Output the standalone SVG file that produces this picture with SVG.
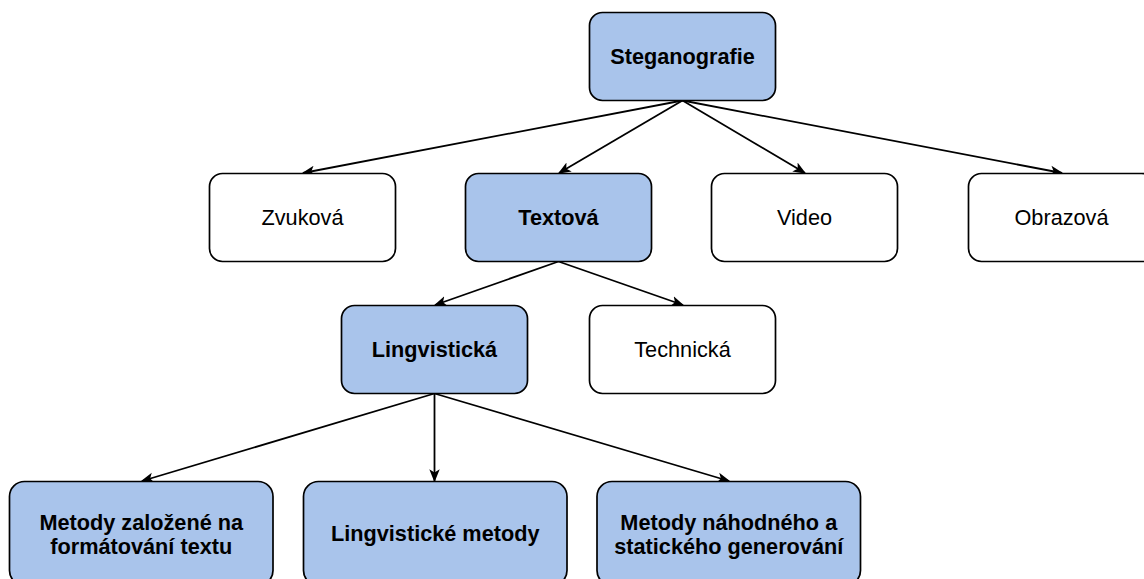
<svg xmlns="http://www.w3.org/2000/svg" width="1144" height="579" viewBox="0 0 1144 579">
<style>
.box{stroke:#000;stroke-width:1.7}
.blue{fill:#A9C4EB}
.white{fill:#fff}
text{font-family:"Liberation Sans",Arial,sans-serif;font-size:21.7px;fill:#000;text-anchor:middle}
.b{font-weight:bold}
.edge{stroke:#000;stroke-width:1.8;fill:none;marker-end:url(#arr)}
</style>
<defs>
<marker id="arr" viewBox="0 0 10 10" refX="9" refY="5" markerWidth="13" markerHeight="13" orient="auto" markerUnits="userSpaceOnUse">
<path d="M0,1 L10,5 L0,9 L2.5,5 Z" fill="#000"/>
</marker>
</defs>
<rect width="1144" height="579" fill="#fff"/>
<g id="connectors">
<line class="edge" x1="682.5" y1="100.5" x2="303" y2="173"/>
<line class="edge" x1="682.5" y1="100.5" x2="559" y2="173"/>
<line class="edge" x1="682.5" y1="100.5" x2="805" y2="173"/>
<line class="edge" x1="682.5" y1="100.5" x2="1062" y2="173"/>
<line class="edge" x1="558.5" y1="261.5" x2="435" y2="305"/>
<line class="edge" x1="558.5" y1="261.5" x2="683" y2="305"/>
<line class="edge" x1="434.5" y1="393.5" x2="142" y2="481"/>
<line class="edge" x1="434.5" y1="393.5" x2="434.5" y2="481"/>
<line class="edge" x1="434.5" y1="393.5" x2="729" y2="481"/>
</g>
<g id="steganografie">
<rect class="box blue" x="589.5" y="12.5" width="186" height="88" rx="13"/>
<text class="b" x="682.5" y="63.5">Steganografie</text>
</g>
<g id="zvukova">
<rect class="box white" x="209.5" y="173.5" width="186" height="88" rx="13"/>
<text x="302.5" y="225">Zvuková</text>
</g>
<g id="textova">
<rect class="box blue" x="465.5" y="173.5" width="186" height="88" rx="13"/>
<text class="b" x="558.5" y="225">Textová</text>
</g>
<g id="video">
<rect class="box white" x="711.5" y="173.5" width="186" height="88" rx="13"/>
<text x="804.5" y="225">Video</text>
</g>
<g id="obrazova">
<rect class="box white" x="968.5" y="173.5" width="186" height="88" rx="13"/>
<text x="1061.5" y="225">Obrazová</text>
</g>
<g id="lingvisticka">
<rect class="box blue" x="341.5" y="305.5" width="186" height="88" rx="13"/>
<text class="b" x="434.5" y="357">Lingvistická</text>
</g>
<g id="technicka">
<rect class="box white" x="589.5" y="305.5" width="186" height="88" rx="13"/>
<text x="682.5" y="357">Technická</text>
</g>
<g id="formatovani">
<rect class="box blue" x="9.5" y="481.5" width="263.5" height="104" rx="15"/>
<text class="b" x="141.25" y="529.5">Metody založené na</text>
<text class="b" x="141.25" y="553.5">formátování textu</text>
</g>
<g id="lingvisticke-metody">
<rect class="box blue" x="303.5" y="481.5" width="263.5" height="104" rx="15"/>
<text class="b" x="435.25" y="540.5">Lingvistické metody</text>
</g>
<g id="nahodne">
<rect class="box blue" x="597" y="481.5" width="263.5" height="104" rx="15"/>
<text class="b" x="728.75" y="529.5">Metody náhodného a</text>
<text class="b" x="728.75" y="553.5">statického generování</text>
</g>
</svg>
